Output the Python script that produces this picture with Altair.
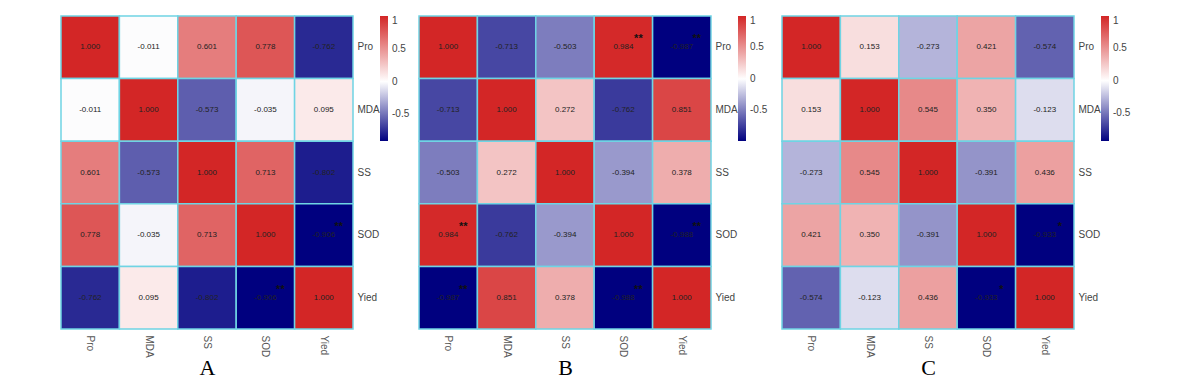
import altair as alt
import pandas as pd

variables = ["Pro", "MDA", "SS", "SOD", "Yied"]
panel_names = ["A", "B", "C"]

corr_A = [
    [1.000, -0.011, 0.601, 0.778, -0.762],
    [-0.011, 1.000, -0.573, -0.035, 0.095],
    [0.601, -0.573, 1.000, 0.713, -0.802],
    [0.778, -0.035, 0.713, 1.000, -0.906],
    [-0.762, 0.095, -0.802, -0.906, 1.000],
]
stars_A = [
    ["", "", "", "", ""],
    ["", "", "", "", ""],
    ["", "", "", "", ""],
    ["", "", "", "", "**"],
    ["", "", "", "**", ""],
]

corr_B = [
    [1.000, -0.713, -0.503, 0.984, -0.987],
    [-0.713, 1.000, 0.272, -0.762, 0.851],
    [-0.503, 0.272, 1.000, -0.394, 0.378],
    [0.984, -0.762, -0.394, 1.000, -0.988],
    [-0.987, 0.851, 0.378, -0.988, 1.000],
]
stars_B = [
    ["", "", "", "**", "**"],
    ["", "", "", "", ""],
    ["", "", "", "", ""],
    ["**", "", "", "", "**"],
    ["**", "", "", "**", ""],
]

corr_C = [
    [1.000, 0.153, -0.273, 0.421, -0.574],
    [0.153, 1.000, 0.545, 0.350, -0.123],
    [-0.273, 0.545, 1.000, -0.391, 0.436],
    [0.421, 0.350, -0.391, 1.000, -0.933],
    [-0.574, -0.123, 0.436, -0.933, 1.000],
]
stars_C = [
    ["", "", "", "", ""],
    ["", "", "", "", ""],
    ["", "", "", "", ""],
    ["", "", "", "", "*"],
    ["", "", "", "*", ""],
]

legend_ticks = [1, 0.5, 0, -0.5]
NAVY = "#00007f"
RED = "#d32626"


def panel(name, corr, stars):
    rows = []
    for i, r in enumerate(variables):
        for j, c in enumerate(variables):
            rows.append({
                "row": r, "col": c, "value": corr[i][j],
                "label": f"{corr[i][j]:.3f}", "star": stars[i][j],
            })
    df = pd.DataFrame(rows)
    vmin = min(min(r) for r in corr)
    base = alt.Chart(df).encode(
        x=alt.X("col:N", sort=variables, title=name,
                axis=alt.Axis(orient="bottom", labelAngle=90, labelAlign="left",
                              labelBaseline="middle", domain=False, ticks=False,
                              labelPadding=6, labelFontSize=10, labelColor="#555",
                              labelFont="Liberation Sans",
                              titleFont="Liberation Serif", titleFontSize=22,
                              titleFontWeight="normal", titleColor="#000",
                              titlePadding=0)),
        y=alt.Y("row:N", sort=variables, title=None,
                axis=alt.Axis(orient="right", domain=False, ticks=False,
                              labelPadding=4, labelFontSize=10, labelColor="#444",
                              labelFont="Liberation Sans")),
    )
    rect = base.mark_rect(stroke="#6fd4e4", strokeWidth=1.5).encode(
        color=alt.Color(
            "value:Q",
            scale=alt.Scale(domain=[vmin, 0, 1], range=[NAVY, "#ffffff", RED],
                            interpolate="rgb"),
            legend=alt.Legend(title=None, orient="right", offset=0, padding=0,
                              values=legend_ticks,
                              labelExpr="toString(datum.value)",
                              gradientLength=125, gradientThickness=8,
                              gradientStrokeWidth=0, labelFontSize=10,
                              labelColor="#444", labelFont="Liberation Sans",
                              labelOffset=4),
        )
    )
    text = base.mark_text(fontSize=8, color="#222", font="Liberation Sans").encode(
        text="label:N")
    star = base.mark_text(fontSize=11, fontWeight="bold", dx=15, dy=-8,
                          color="#111", font="Liberation Sans").encode(text="star:N")
    return alt.layer(rect, text, star).properties(width=292, height=313)


inner = alt.hconcat(
    panel(panel_names[0], corr_A, stars_A),
    panel(panel_names[1], corr_B, stars_B),
    spacing=8,
).resolve_scale(color="independent")
chart = alt.hconcat(
    inner,
    panel(panel_names[2], corr_C, stars_C),
    spacing=13,
).resolve_scale(color="independent").properties(
    padding={"left": 52, "top": 7, "right": 5, "bottom": 5}
).configure_view(stroke=None)

chart.save("out.html", embed_options={"renderer": "svg", "actions": False})
